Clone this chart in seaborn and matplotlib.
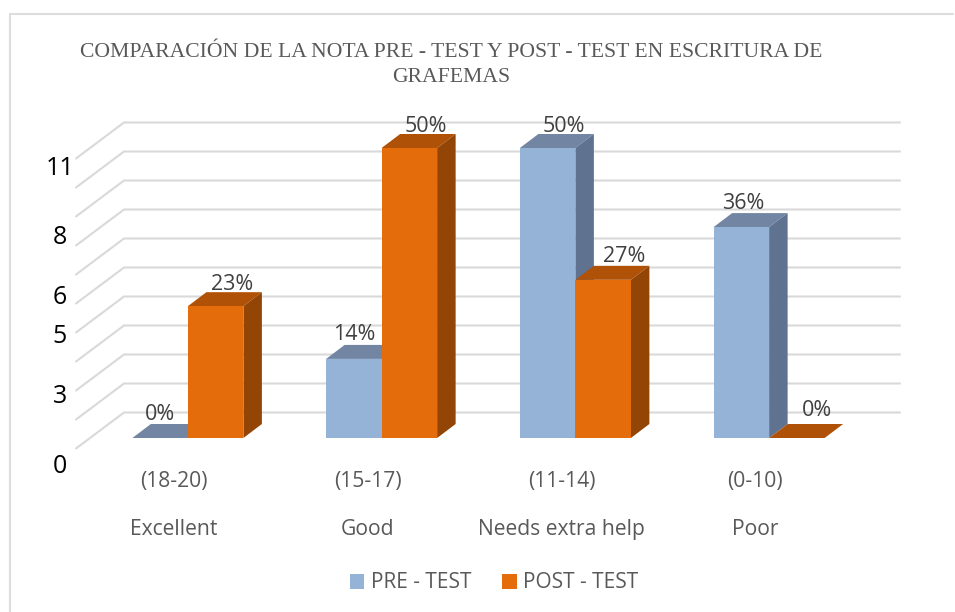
import numpy as np
import pandas as pd
import matplotlib
matplotlib.use("Agg")
import matplotlib.pyplot as plt
import seaborn as sns
from matplotlib.lines import Line2D
from matplotlib.patches import Patch, Polygon

groups = ["(18-20)\n\nExcellent", "(15-17)\n\nGood", "(11-14)\n\nNeeds extra help", "(0-10)\n\nPoor"]
pre_test = [0, 3, 11, 8]
post_test = [5, 11, 6, 0]
pre_labels = ["0%", "14%", "50%", "36%"]
post_labels = ["23%", "50%", "27%", "0%"]
grid_values = [1.1 * k for k in range(11)]
tick_values = [-0.98, 1.7, 3.95, 5.45, 7.7, 10.33]
tick_labels = ["0", "3", "5", "6", "8", "11"]
title = "COMPARACIÓN DE LA NOTA PRE - TEST Y POST - TEST EN ESCRITURA DE\nGRAFEMAS"

W, H = 955, 612
PX_X = 193.75
PX_Y = 290 / 11
DEPTH_X, DEPTH_Y = 18.5 / PX_X, 14 / PX_Y

colors = {"PRE - TEST": "#95B3D7", "POST - TEST": "#E46C0A"}
tops = {"PRE - TEST": "#7286A3", "POST - TEST": "#AF5207"}
sides = {"PRE - TEST": "#5F7290", "POST - TEST": "#934505"}

df = pd.DataFrame({
    "group": groups * 2,
    "test": ["PRE - TEST"] * 4 + ["POST - TEST"] * 4,
    "value": pre_test + post_test,
})

sns.set_theme(style="white")
plt.rcParams["font.family"] = ["Open Sans", "DejaVu Sans"]

fig = plt.figure(figsize=(W / 100, H / 100), dpi=100)
# axes run one unit below the floor so the "0" label stays a real tick
ax = fig.add_axes([91 / W, 1 - (438 + PX_Y) / H, 775 / W, (290 + PX_Y) / H])
sns.barplot(data=df, x="group", y="value", hue="test", palette=colors, saturation=1,
            width=0.573, legend=False, ax=ax)
ax.patch.set_alpha(0)
sns.despine(ax=ax, left=True, bottom=True)
ax.set_xlabel("")
ax.set_ylabel("")

# walls: back edge is pushed up 25.5 px, left end comes forward
for v in grid_values:
    back = v + 25.5 / PX_Y
    front = back - 36 / PX_Y
    ax.plot([-0.5 - 15 / PX_X, -0.5 + 33 / PX_X, -0.5 + 809 / PX_X], [front, back, back],
            color="#D9D9D9", lw=1.5, zorder=1, clip_on=False)

# fake 3d faces on every bar
for n, (container, name, labels, dxs, dys) in enumerate(zip(
        ax.containers, ["PRE - TEST", "POST - TEST"], [pre_labels, post_labels],
        [[0, 0, 16, 2], [16, 16, 21, 20]], [[24, 24, 22, 24], [22, 22, 23, 28]])):
    for bar, label, dx, dy in zip(container, labels, dxs, dys):
        x0, w, h = bar.get_x(), bar.get_width(), bar.get_height()
        bar.set_zorder(2.5 + n)
        bar.set_edgecolor("none")
        ax.add_patch(Polygon([(x0, h), (x0 + w, h), (x0 + w + DEPTH_X, h + DEPTH_Y), (x0 + DEPTH_X, h + DEPTH_Y)],
                             facecolor=tops[name], edgecolor="none", zorder=2 + n, clip_on=False))
        if h > 0:
            ax.add_patch(Polygon([(x0 + w, 0), (x0 + w + DEPTH_X, DEPTH_Y), (x0 + w + DEPTH_X, h + DEPTH_Y), (x0 + w, h)],
                                 facecolor=sides[name], edgecolor="none", zorder=2 + n, clip_on=False))
        ax.annotate(label, (x0 + w / 2, h), xytext=(dx, dy), textcoords="offset pixels",
                    ha="center", va="center", fontsize=15.5, color="#404040", zorder=6)

ax.set_xticks(np.arange(4) - 14 / PX_X, groups)
ax.tick_params(axis="x", length=0, pad=5, labelsize=15.2, labelcolor="#595959")
for lab in ax.get_xticklabels():
    lab.set_linespacing(1.17)
ax.set_yticks(tick_values, tick_labels)
ax.tick_params(axis="y", length=0, pad=22.5, labelsize=18, labelcolor="black")
for lab in ax.get_yticklabels():
    lab.set_ha("center")
ax.set_xlim(-0.5, 3.5)
ax.set_ylim(-1, 11)

fig.text(451.5 / W, 1 - 65 / H, title, ha="center", va="center", fontsize=15.6, color="#595959",
         family="Liberation Serif", linespacing=1.38)

handles = [Patch(facecolor=colors[k], edgecolor="none", label=k) for k in colors]
fig.legend(handles=handles, ncol=2, loc="center", bbox_to_anchor=(494 / W, 1 - 583 / H), frameon=False,
           fontsize=15, labelcolor="#595959", handlelength=0.7, handleheight=0.7, handletextpad=0.3,
           columnspacing=1.5, borderpad=0)

fig.add_artist(Line2D([10 / W, 10 / W, 953 / W], [0, 1 - 14 / H, 1 - 14 / H], color="#DDDDDD", lw=1.5))

fig.savefig("out.png", dpi=100)
